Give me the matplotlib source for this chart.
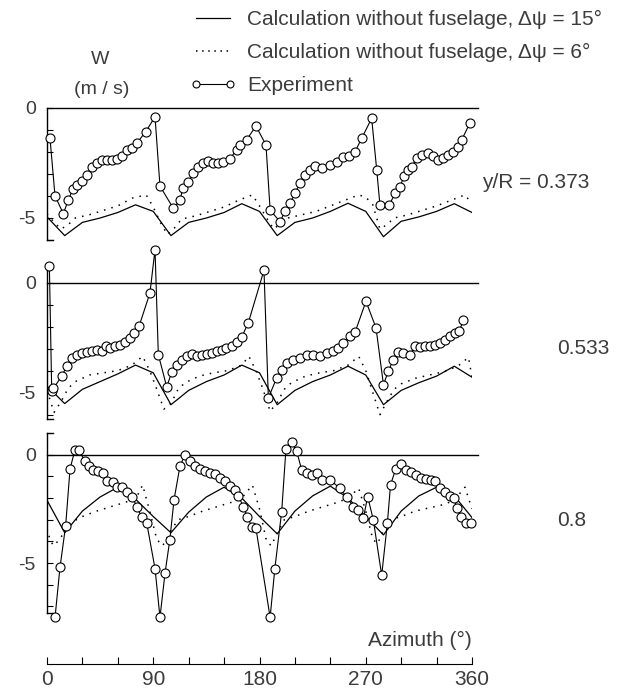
import matplotlib
matplotlib.use('Agg')
import matplotlib.pyplot as plt
from matplotlib.lines import Line2D

plt.rcParams['font.family'] = ['Liberation Sans', 'DejaVu Sans']

# ---------------- data ----------------
# calculation without fuselage, dpsi = 15 deg (one value every 15 deg)
az_15 = [0, 15, 30, 45, 60, 75, 90, 105, 120, 135, 150, 165, 180,
         195, 210, 225, 240, 255, 270, 285, 300, 315, 330, 345, 360]
w15_373 = [-4.95, -5.8, -5.2, -5.0, -4.75, -4.4, -4.7, -5.8, -5.2, -5.0, -4.75, -4.35, -4.7,
           -5.8, -5.2, -5.0, -4.7, -4.33, -4.7, -5.85, -5.15, -4.95, -4.7, -4.35, -4.75]
w15_533 = [-4.7, -5.5, -4.85, -4.5, -4.15, -3.75, -4.1, -5.55, -4.9, -4.5, -4.2, -3.75, -4.1,
           -5.55, -4.9, -4.5, -4.2, -3.8, -4.2, -5.55, -4.9, -4.55, -4.25, -3.8, -4.3]
w15_800 = [-2.1, -3.6, -2.6, -1.95, -1.5, -2.05, -2.85, -3.6, -2.65, -1.95, -1.5, -2.0, -2.85,
           -3.65, -2.6, -1.9, -1.45, -2.0, -2.85, -3.7, -2.6, -1.9, -1.5, -1.9, -2.9]

# calculation without fuselage, dpsi = 6 deg
az6_373 = [0, 6, 12, 18, 24, 36, 48, 60, 72, 84, 90, 96, 102, 108, 114, 126, 138, 150, 162,
           174, 180, 186, 192, 198, 204, 216, 228, 240, 252, 264, 270, 276, 282, 288, 294,
           306, 318, 330, 342, 354, 360]
w6_373 = [-4.8, -5.2, -5.5, -5.3, -5.0, -4.85, -4.65, -4.45, -4.1, -3.95, -4.5, -5.2, -5.75,
          -5.45, -5.05, -4.9, -4.7, -4.5, -4.2, -3.95, -4.45, -5.0, -5.5, -5.25, -5.0, -4.85,
          -4.7, -4.45, -4.2, -3.95, -4.05, -4.4, -5.5, -5.3, -5.0, -4.85, -4.65, -4.45, -4.2,
          -3.95, -4.35]
az6_533 = [0, 6, 12, 18, 24, 36, 48, 60, 72, 81, 87, 93, 99, 105, 111, 117, 129, 141, 153,
           165, 171, 177, 183, 189, 195, 201, 207, 219, 231, 243, 255, 264, 270, 276, 282,
           288, 294, 300, 312, 324, 336, 348, 357, 360]
w6_533 = [-4.9, -5.9, -5.4, -4.8, -4.5, -4.2, -4.1, -4.0, -3.75, -3.35, -4.0, -4.85, -5.75,
          -5.5, -4.85, -4.55, -4.25, -4.1, -4.0, -3.75, -3.35, -4.0, -4.85, -5.85, -5.45,
          -4.85, -4.55, -4.25, -4.1, -4.0, -3.75, -3.35, -4.0, -5.0, -6.0, -5.4, -4.85, -4.6,
          -4.35, -4.2, -4.05, -3.8, -3.4, -4.3]
az6_800 = [0, 3, 6, 12, 18, 30, 42, 54, 66, 75, 81, 87, 93, 98, 105, 111, 120, 132, 144,
           156, 165, 174, 180, 186, 190, 195, 201, 210, 222, 234, 246, 255, 264, 270, 276,
           280, 285, 291, 300, 312, 324, 336, 345, 354, 360]
w6_800 = [-3.4, -4.0, -4.2, -3.8, -3.2, -2.85, -2.6, -2.4, -2.2, -2.05, -1.4, -2.6, -3.9,
          -4.2, -3.5, -3.0, -2.85, -2.6, -2.4, -2.2, -2.0, -1.4, -2.5, -4.0, -4.2, -3.6,
          -3.0, -2.85, -2.6, -2.4, -2.2, -2.0, -1.55, -2.6, -3.9, -4.1, -3.5, -3.0, -2.85,
          -2.6, -2.45, -2.3, -2.1, -1.5, -2.5]

# experiment
azx_373 = [2.5, 6.8, 13.8, 18, 21.7, 25.7, 30, 34, 37.8, 42, 46.3, 50.5, 54.8, 59, 63.3,
           67.5, 71.7, 76, 83.6, 91.5, 95.7, 107, 112.7, 115, 119.7, 124, 128, 132.4, 136.6,
           141, 145, 149.3, 155, 160.7, 163.5, 169, 177, 185.5, 189, 197.4, 201.6, 205.8,
           210, 214.3, 218.5, 222.8, 227, 232.7, 239.7, 245.4, 251, 256, 261, 266.5, 275,
           279.3, 282, 290, 294.8, 299, 302.4, 306, 309, 313, 317.4, 323, 327, 331.4, 335.7,
           340, 344, 348.4, 351.3, 358.3]
wx_373 = [-1.36, -4.0, -4.8, -4.2, -3.7, -3.5, -3.3, -3.05, -2.7, -2.5, -2.36, -2.36, -2.36,
          -2.33, -2.2, -1.9, -1.83, -1.6, -1.08, -0.4, -3.55, -4.56, -4.2, -3.65, -3.35,
          -2.97, -2.67, -2.5, -2.4, -2.5, -2.5, -2.44, -2.3, -1.9, -1.7, -1.45, -0.82,
          -1.68, -4.64, -5.17, -4.7, -4.33, -3.88, -3.42, -3.05, -2.8, -2.64, -2.74, -2.6,
          -2.44, -2.24, -2.2, -1.98, -1.38, -0.47, -2.82, -4.4, -4.4, -3.88, -3.58, -3.1,
          -2.8, -2.67, -2.29, -2.14, -2.06, -2.2, -2.36, -2.29, -2.14, -1.98, -1.79, -1.45,
          -0.67]
azx_533 = [2, 4, 5.5, 12.4, 16.7, 21, 25, 29.4, 33.6, 37.8, 42, 46.3, 50, 53.4, 57.6, 61.8,
           66, 70.3, 74, 78.2, 87.2, 91.5, 94.3, 101.4, 105.6, 110, 114, 118.3, 122.5, 126.8,
           131, 135.3, 139.5, 143.7, 148, 152, 156.5, 160.7, 165, 170.5, 183.8, 187.5, 194.6,
           198.8, 203, 208.6, 214.3, 220, 225.6, 231.3, 237, 242.5, 246.8, 251, 256.6, 260.9,
           270.2, 278.7, 285, 289.1, 293.4, 297.6, 301.8, 307.5, 311.7, 316, 320, 324.4,
           328.6, 333, 337, 341.3, 345.6, 349.3, 352.6]
wx_533 = [0.77, -4.94, -4.8, -4.26, -3.8, -3.42, -3.27, -3.2, -3.17, -3.12, -3.05, -3.12,
          -2.9, -2.97, -2.9, -2.82, -2.71, -2.52, -2.29, -1.95, -0.47, 1.5, -3.27, -4.74,
          -4.08, -3.73, -3.53, -3.35, -3.23, -3.32, -3.27, -3.23, -3.2, -3.12, -3.05, -2.97,
          -2.9, -2.71, -2.47, -1.83, 0.56, -5.24, -4.33, -3.95, -3.65, -3.5, -3.42, -3.27,
          -3.27, -3.32, -3.2, -3.12, -2.97, -2.74, -2.44, -2.26, -0.85, -2.06, -4.64, -4.03,
          -3.5, -3.17, -3.2, -3.27, -2.9, -2.92, -2.9, -2.86, -2.82, -2.74, -2.59, -2.44,
          -2.29, -2.21, -1.71]
azx_800 = [6.8, 11, 15.8, 19.5, 23.7, 27.4, 32, 35.8, 39.2, 43.5, 47.2, 51, 55.6, 59.5,
           63.8, 68, 72.3, 76, 80.2, 84.5, 91.5, 95.7, 100, 104, 107.6, 112.7, 117, 121,
           125.4, 129.6, 133.8, 138, 142.3, 146.5, 150.8, 155, 159.2, 162, 166.3, 169.7,
           173.4, 177, 189, 193, 198.8, 202.4, 207.3, 211.5, 215.7, 220, 224.2, 228.4, 232.7,
           239.7, 248, 253.8, 259.5, 263.7, 268, 271.6, 276.4, 283.5, 288.3, 291, 295.4,
           299.6, 303.8, 308, 312.3, 316.5, 320.8, 325, 328.6, 333, 337, 341.3, 344.7, 347,
           350.4, 354.6, 358.8]
wx_800 = [-7.5, -5.2, -3.27, -0.66, 0.23, 0.2, -0.31, -0.51, -0.69, -0.77, -0.85, -1.23,
          -1.28, -1.47, -1.5, -1.7, -1.96, -2.39, -2.88, -3.16, -5.25, -7.5, -5.45, -3.94,
          -2.08, -0.51, 0.0, -0.31, -0.54, -0.66, -0.77, -0.85, -0.88, -1.08, -1.23, -1.44,
          -1.62, -1.9, -2.39, -2.86, -3.32, -3.4, -7.5, -5.25, -2.62, 0.26, 0.57, 0.15,
          -0.69, -0.85, -0.93, -0.85, -1.16, -1.16, -1.54, -1.96, -2.39, -2.55, -2.93, -1.93,
          -3.0, -5.56, -3.16, -1.39, -0.66, -0.42, -0.69, -0.82, -0.93, -1.08, -1.13, -1.19,
          -1.23, -1.54, -1.7, -1.9, -2.0, -2.47, -2.86, -3.16, -3.16]

radius_labels = ['y/R = 0.373', '0.533', '0.8']
azimuth_ticks = [0, 90, 180, 270, 360]
legend_labels = ['Calculation without fuselage, \u0394\u03c8 = 15\u00b0',
                 'Calculation without fuselage, \u0394\u03c8 = 6\u00b0',
                 'Experiment']

# ---------------- layout (pixel based) ----------------
W, H = 630, 689
X0, X1 = 47, 472
TXT = '#3c3c3c'


def rect(top, bottom):
    return [X0 / W, 1 - bottom / H, (X1 - X0) / W, (bottom - top) / H]


fig = plt.figure(figsize=(W / 100, H / 100), dpi=100)

panels = [
    (az6_373, w6_373, w15_373, azx_373, wx_373, (-6.0, 0.0), 108, 240, 183, 482),
    (az6_533, w6_533, w15_533, azx_533, wx_533, (-6.2, 0.8), 265, 419, 348, 557),
    (az6_800, w6_800, w15_800, azx_800, wx_800, (-7.3, 1.0), 433, 613, 520, 557),
]

for i, (az6, w6, w15, azx, wx, ylim, top, bot, ylab, xlab) in enumerate(panels):
    ax = fig.add_axes(rect(top, bot))
    ax.plot(az_15, w15, color='k', lw=0.9)
    ax.plot(az6, w6, color='k', lw=1.1, linestyle=(0, (1, 4)))
    ax.plot(azx, wx, color='k', lw=0.8, marker='o', ms=6.5, mfc='white',
            mec='k', mew=0.8, clip_on=False, zorder=3)
    ax.plot([0, 365], [0, 0], color='k', lw=1.0, clip_on=False)
    ax.set_xlim(0, 360)
    ax.set_ylim(*ylim)
    for s in ['top', 'right', 'bottom']:
        ax.spines[s].set_visible(False)
    ax.spines['left'].set_linewidth(1.0)
    ax.set_xticks([])
    ax.set_yticks([0, -5])
    ax.set_yticklabels(['0', '-5'])
    ax.set_yticks(range(int(ylim[0]), 1), minor=True)
    ax.tick_params(axis='y', which='both', direction='in', length=4, width=0.8,
                   labelsize=14, labelcolor=TXT, pad=8)
    # little feet of the bracket-shaped left axis
    ax.plot([0, 0.015], [0, 0], transform=ax.transAxes, color='k', lw=1.0, clip_on=False)
    if i == 2:
        ax.plot([0, 0.015], [1, 1], transform=ax.transAxes, color='k', lw=1.0, clip_on=False)
    fig.text(xlab / W, 1 - ylab / H, radius_labels[i], ha='left', va='center',
             fontsize=15, color=TXT)

# azimuth axis at the bottom
axx = fig.add_axes([X0 / W, 1 - 664 / H, (X1 - X0) / W, 0.0001])
for s in ['top', 'right', 'left']:
    axx.spines[s].set_visible(False)
axx.set_xlim(0, 360)
axx.set_yticks([])
axx.set_xticks(azimuth_ticks)
axx.set_xticklabels([str(t) for t in azimuth_ticks])
axx.set_xticks(range(0, 361, 30), minor=True)
axx.tick_params(axis='x', which='both', direction='in', length=5, width=0.8,
                labelsize=15, labelcolor=TXT, pad=4)
fig.text(X1 / W, 1 - 640 / H, 'Azimuth (\u00b0)', ha='right', va='center',
         fontsize=15, color=TXT)

# unit label
fig.text(100 / W, 1 - 59 / H, 'W', ha='center', va='center', fontsize=14, color=TXT)
fig.text(102 / W, 1 - 90 / H, '(m / s)', ha='center', va='center', fontsize=14, color=TXT)

# legend
handles = [
    Line2D([], [], color='k', lw=0.9),
    Line2D([], [], color='k', lw=1.1, linestyle=(0, (1, 3))),
    Line2D([], [], color='k', lw=0.8, marker='o', ms=5, mfc='white', mec='k', mew=0.8),
]
leg = fig.legend(handles, legend_labels, loc='upper left',
                 bbox_to_anchor=(190 / W, 1 - 10 / H), frameon=False, borderpad=0,
                 borderaxespad=0, handlelength=2.2, handletextpad=0.55,
                 labelspacing=0.68, numpoints=2, fontsize=15)
for t in leg.get_texts():
    t.set_color(TXT)

fig.savefig('out.png', dpi=100)
